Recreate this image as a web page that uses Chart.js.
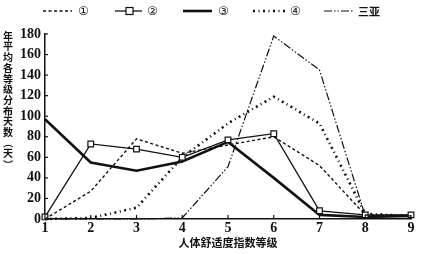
<!DOCTYPE html>
<html><head><meta charset="utf-8">
<script src="https://cdn.jsdelivr.net/npm/chart.js@4"></script>
<style>html,body{margin:0;padding:0;background:#fff}#wrap{width:421px;height:254px;position:relative}</style>
</head><body><div id="wrap"><canvas id="c"></canvas></div>
<script>
const categories = ['1','2','3','4','5','6','7','8','9'];
const yTicks = [0,20,40,60,80,100,120,140,160,180];
const seriesNames = ['①','②','③','④','三亚'];
const s1 = [0, 27, 78, 64, 72, 80, 52, 4, 3];
const s2 = [2, 73, 68, 60, 77, 83, 8, 4, 4];
const s3 = [97, 55, 47, 56, 75, 40, 4, 2, 3];
const s4 = [0, 1, 11, 60, 93, 119, 93, 5, 3];
const sanya = [0, 0, 0, 1, 51, 178, 145, 3, 3];
const yTitle = '年平均各等级分布天数（天）';
const xTitle = '人体舒适度指数等级';

const ink = '#111';
const styles = [
  {borderWidth:1.4, borderDash:[3,2.5], pointRadius:0},
  {borderWidth:1.3, borderDash:[], pointRadius:4, pointStyle:'rect'},
  {borderWidth:2.6, borderDash:[], pointRadius:0},
  {borderWidth:2.6, borderDash:[2,3.5,1,3.5], pointRadius:0},
  {borderWidth:1.2, borderDash:[8,2,1.5,2,1.5,2], pointRadius:0}
];
const dataArr = [s1,s2,s3,s4,sanya];
const datasets = dataArr.map((d,i)=>Object.assign({
  label: seriesNames[i], data: d, borderColor: ink, backgroundColor:'#fff',
  pointBackgroundColor:'#fff', pointBorderColor: ink, pointBorderWidth:1.2,
  tension:0, clip:false, fill:false
}, styles[i]));

const deco = {
  id:'deco',
  afterDraw(chart){
    const ctx = chart.ctx, x = chart.scales.x, y = chart.scales.y;
    ctx.save();
    ctx.strokeStyle = ink; ctx.lineWidth = 1.2; ctx.setLineDash([]);
    // inner ticks
    yTicks.forEach(v=>{const py=y.getPixelForValue(v); ctx.beginPath(); ctx.moveTo(x.left,py); ctx.lineTo(x.left+3,py); ctx.stroke();});
    categories.forEach((c,i)=>{const px=x.getPixelForValue(i); ctx.beginPath(); ctx.moveTo(px,y.bottom); ctx.lineTo(px,y.bottom-4); ctx.stroke();});
    // y title stacked
    ctx.fillStyle = ink; ctx.textAlign='center'; ctx.textBaseline='middle';
    ctx.font = 'bold 10px "Noto Sans CJK SC"';
    const chars = Array.from(yTitle);
    chars.forEach((ch,i)=>{
      let cy = 36 + i*10.7;
      if (ch==='（'||ch==='）'){
        ctx.save(); ctx.translate(8,cy); ctx.rotate(Math.PI/2); ctx.fillText(ch,0,0); ctx.restore();
      } else ctx.fillText(ch, 8, cy);
    });
    // x title
    ctx.font = 'bold 11px "Noto Sans CJK SC"';
    ctx.fillText(xTitle, 228, 243);
    // legend
    const ly = 11;
    const items = [
      {x0:43,x1:72,tx:78},{x0:115,x1:142,tx:147},{x0:183,x1:212,tx:218},{x0:253,x1:286,tx:290},{x0:324,x1:353,tx:358}
    ];
    items.forEach((it,i)=>{
      const st = styles[i];
      ctx.beginPath(); ctx.lineWidth = st.borderWidth; ctx.setLineDash(st.borderDash);
      ctx.moveTo(it.x0,ly); ctx.lineTo(it.x1,ly); ctx.stroke();
      ctx.setLineDash([]);
      if (i===1){ ctx.fillStyle='#fff'; ctx.lineWidth=1.2; ctx.fillRect(126,ly-3.5,7,7); ctx.strokeRect(126,ly-3.5,7,7); }
      ctx.fillStyle = ink; ctx.textAlign='left';
      ctx.font = i===4 ? 'bold 11px "Noto Sans CJK SC"' : '12px "DejaVu Sans"';
      ctx.fillText(seriesNames[i], it.tx, ly+0.5);
    });
    ctx.restore();
  }
};

new Chart(document.getElementById('c'), {
  type:'line',
  data:{labels:categories, datasets},
  options:{
    responsive:true, maintainAspectRatio:false, animation:false,
    layout:{padding:{top:34,right:10,left:0,bottom:0}},
    plugins:{legend:{display:false}, tooltip:{enabled:false}},
    scales:{
      x:{ offset:false,
        grid:{display:false, drawTicks:false},
        border:{display:true,color:ink,width:1.5},
        ticks:{color:ink,font:{family:'"Liberation Serif"',size:14,weight:'bold'},padding:1,maxRotation:0,autoSkip:false},
        afterFit(s){s.height=35;}
      },
      y:{ min:0,max:180,
        afterBuildTicks(s){s.ticks = yTicks.map(v=>({value:v}));},
        grid:{display:false, drawTicks:false},
        border:{display:true,color:ink,width:1.5},
        ticks:{color:ink,font:{family:'"Liberation Serif"',size:14,weight:'bold'},padding:4},
        afterFit(s){s.width=45;}
      }
    }
  },
  plugins:[deco]
});
</script></body></html>
